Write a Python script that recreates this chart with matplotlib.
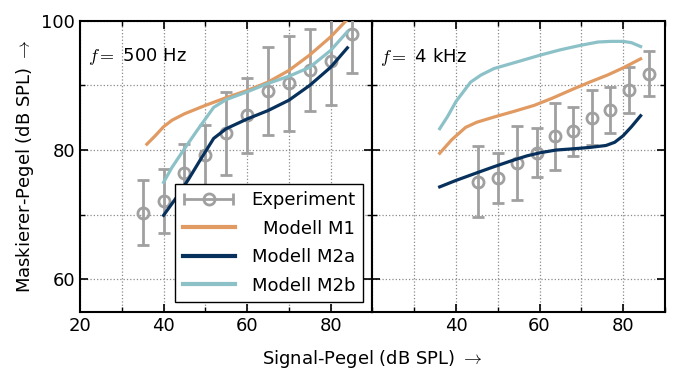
import numpy as np
import matplotlib
matplotlib.use("Agg")
import matplotlib.pyplot as plt
from matplotlib.ticker import MultipleLocator, FixedLocator
from matplotlib.container import ErrorbarContainer
from matplotlib.legend_handler import HandlerErrorbar

# ---------- data: f = 500 Hz ----------
exp500_x = [35, 40, 45, 50, 55, 60, 65, 70, 75, 80, 85]
exp500_y = [70.3, 72.1, 76.4, 79.2, 82.6, 85.4, 89.2, 90.3, 92.4, 93.8, 98.0]
exp500_e = [5.0, 5.0, 4.6, 4.7, 6.4, 5.8, 6.8, 7.3, 6.3, 6.8, 6.1]

m1_500_x = [36, 38, 40, 42, 45, 50, 55, 60, 65, 70, 75, 80, 84]
m1_500_y = [80.9, 82.2, 83.6, 84.6, 85.6, 86.9, 88.1, 89.2, 90.5, 92.3, 94.7, 97.5, 100.2]

m2a_500_x = [40, 43, 46, 49, 52, 55, 60, 65, 70, 75, 80, 84]
m2a_500_y = [69.9, 72.6, 75.5, 78.7, 81.8, 83.3, 84.8, 86.1, 87.7, 90.0, 92.8, 95.8]

m2b_500_x = [40, 42, 45, 48, 52, 55, 60, 65, 70, 75, 80, 84]
m2b_500_y = [75.0, 77.3, 80.2, 83.0, 86.6, 87.8, 89.0, 90.3, 91.4, 92.8, 95.4, 98.3]

# ---------- data: f = 4 kHz ----------
exp4k_x = [45.3, 50.1, 54.5, 59.3, 63.8, 68.1, 72.6, 76.8, 81.5, 86.1]
exp4k_y = [75.1, 75.7, 78.0, 79.6, 82.1, 82.9, 85.0, 86.2, 89.3, 91.8]
exp4k_e = [5.5, 3.9, 5.7, 3.8, 5.2, 3.8, 4.3, 3.5, 3.5, 3.5]

m1_4k_x = [36.1, 39, 42.3, 45, 49.1, 54, 58.7, 63, 68.3, 72, 76.3, 80, 84.2]
m1_4k_y = [79.5, 81.6, 83.5, 84.3, 85.1, 86.0, 86.9, 88.0, 89.5, 90.5, 91.6, 92.7, 94.1]

m2a_4k_x = [36.1, 40, 45.1, 49, 53.1, 57, 60.3, 64, 68.3, 72, 75.9, 78, 80, 82, 84.2]
m2a_4k_y = [74.3, 75.3, 76.5, 77.4, 78.3, 79.1, 79.6, 80.0, 80.2, 80.4, 80.7, 81.2, 82.2, 83.6, 85.3]

m2b_4k_x = [36.1, 38, 40, 43.5, 46, 49.1, 55, 60.3, 65, 69.9, 74, 77.1, 80, 82, 84.2]
m2b_4k_y = [83.3, 85.2, 87.5, 90.5, 91.6, 92.6, 93.7, 94.7, 95.5, 96.2, 96.7, 96.8, 96.8, 96.6, 96.0]

labels = ["Experiment", "Modell M1", "Modell M2a", "Modell M2b"]
titles = ["$f=$ 500 Hz", "$f=$ 4 kHz"]

c_exp = "#a0a0a0"
c_m1 = "#e09a62"
c_m2a = "#07315c"
c_m2b = "#8cc1c8"

plt.rcParams["font.family"] = "DejaVu Sans"
plt.rcParams["mathtext.fontset"] = "cm"
plt.rcParams["font.size"] = 13

fig = plt.figure(figsize=(6.73, 3.76), dpi=100)
ax1 = fig.add_axes([0.1189, 0.171, 0.4345, 0.774])
ax2 = fig.add_axes([0.5534, 0.171, 0.4345, 0.774], sharey=ax1)

datasets = [
    (ax1, exp500_x, exp500_y, exp500_e, m1_500_x, m1_500_y, m2a_500_x, m2a_500_y, m2b_500_x, m2b_500_y),
    (ax2, exp4k_x, exp4k_y, exp4k_e, m1_4k_x, m1_4k_y, m2a_4k_x, m2a_4k_y, m2b_4k_x, m2b_4k_y),
]

for i, (ax, ex, ey, ee, x1, y1, xa, ya, xb, yb) in enumerate(datasets):
    ax.errorbar(ex, ey, yerr=ee, fmt="o", color=c_exp, mfc="none", mec=c_exp,
                ms=8, mew=2, elinewidth=2, capsize=4, capthick=2, zorder=3)
    ax.plot(x1, y1, color=c_m1, lw=2.3, zorder=4)
    ax.plot(xa, ya, color=c_m2a, lw=2.3, zorder=4)
    ax.plot(xb, yb, color=c_m2b, lw=2.3, zorder=4)

    ax.set_xlim(20, 90)
    ax.set_ylim(55, 100)
    ax.xaxis.set_major_locator(FixedLocator([20, 40, 60, 80] if i == 0 else [40, 60, 80]))
    ax.xaxis.set_minor_locator(MultipleLocator(10))
    ax.yaxis.set_major_locator(FixedLocator([60, 80, 100]))
    ax.yaxis.set_minor_locator(MultipleLocator(10))
    ax.tick_params(which="major", direction="in", top=True, right=True, length=6, width=1.2)
    ax.tick_params(which="minor", direction="in", top=True, right=True, length=3.5, width=1.0)
    if i == 1:
        ax.tick_params(labelleft=False)
    ax.grid(True, which="both", linestyle=":", color="#8a8a8a", lw=0.9)
    for s in ax.spines.values():
        s.set_linewidth(1.5)
    ax.text(0.027, 0.876, titles[i], transform=ax.transAxes, ha="left", va="center")

ax1.set_ylabel(r"Maskierer-Pegel (dB SPL) $\rightarrow$")
fig.text(0.553, 0.045, r"Signal-Pegel (dB SPL) $\rightarrow$", ha="center", va="center", fontsize=13)

# legend proxies
proxy_exp = ax1.errorbar([np.nan], [np.nan], xerr=[1], fmt="o", color=c_exp, mfc="none",
                         mec=c_exp, ms=8, mew=2, elinewidth=2, capsize=4, capthick=2)
h1, = ax1.plot([], [], color=c_m1, lw=3)
h2, = ax1.plot([], [], color=c_m2a, lw=3)
h3, = ax1.plot([], [], color=c_m2b, lw=3)

leg = ax1.legend([proxy_exp, h1, h2, h3], labels, loc="lower right", fancybox=False,
                 edgecolor="black", framealpha=1, handlelength=2.9, numpoints=1,
                 labelspacing=0.58, borderaxespad=0.55, handletextpad=0.9,
                 handler_map={ErrorbarContainer: HandlerErrorbar(xerr_size=1.35)})
leg.get_frame().set_linewidth(1.0)
leg.set_zorder(10)

# right-align legend texts
fig.canvas.draw()
renderer = fig.canvas.get_renderer()
widths = [t.get_window_extent(renderer).width for t in leg.get_texts()]
shift = max(widths)
for t, w in zip(leg.get_texts(), widths):
    t.set_position((shift - w, 0))

fig.savefig("out.png", dpi=100)
